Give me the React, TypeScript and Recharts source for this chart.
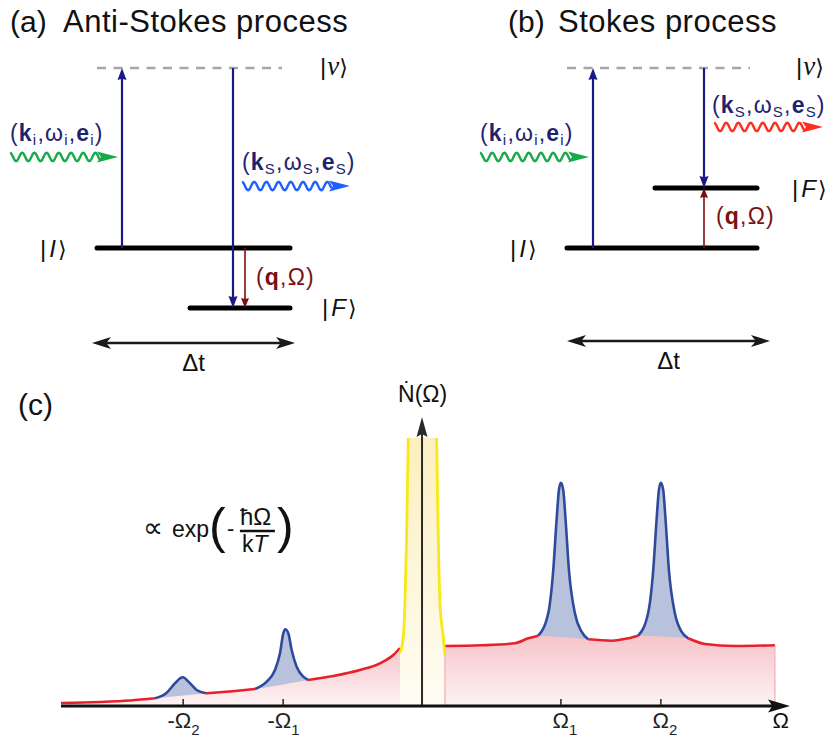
import React from 'react';
import { ComposedChart, XAxis, YAxis, ReferenceLine, ReferenceDot, Line, Area } from 'recharts';

const SANS = '"Liberation Sans", Arial, Helvetica, sans-serif';
const SERIF = '"Liberation Serif", "Times New Roman", serif';
const KET = '"DejaVu Sans", "Liberation Sans", sans-serif';

const NAVY = '#1a1a84';
const NAVY_TEXT = '#1d246f';
const MAROON = '#7b1010';

// ---------------- data ----------------
// energy levels (units of ħΩ): |ν⟩, |I⟩, |F⟩
const STATES = ['ν', 'I', 'F'];
const ENERGY_ANTI_STOKES = [3, 0, -1];
const ENERGY_STOKES = [3, 0, 1];

// spectrum (Ω in units of Ω1, intensity arbitrary)
const RED_POINTS: [number, number][] = [
  [-2.6, 0.3], [-2.32, 0.4], [-2.1, 0.55], [-1.922, 0.77], [-1.556, 1.27], [-1.383, 1.45], [-1.203, 1.7],
  [-0.819, 2.6], [-0.639, 3.0], [-0.447, 3.6], [-0.303, 4.27], [-0.207, 5.1], [-0.159, 5.8],
  [0.165, 6.0], [0.429, 6.07], [0.669, 6.27], [0.765, 6.77], [0.837, 7.03], [1.197, 6.67], [1.365, 6.53],
  [1.485, 6.77], [1.557, 7.03], [1.917, 6.77], [2.037, 6.2], [2.253, 6.0], [2.541, 6.07],
];
const PEAK_POINTS: [number, number][] = [
  [-1.922, 0.77], [-1.839, 1.33], [-1.779, 2.27], [-1.724, 2.87], [-1.671, 2.27], [-1.623, 1.6], [-1.556, 1.27],
  [-1.203, 1.7], [-1.119, 2.43], [-1.059, 3.6], [-1.023, 5.27], [-0.999, 7.27], [-0.985, 7.67], [-0.963, 7.27],
  [-0.939, 5.6], [-0.903, 3.93], [-0.855, 2.93], [-0.819, 2.6],
  [0.837, 7.03], [0.909, 9.27], [0.945, 13.6], [0.969, 18.6], [0.986, 21.6], [1.0, 22.33], [1.017, 21.6],
  [1.034, 18.6], [1.058, 13.6], [1.101, 9.27], [1.149, 7.43], [1.197, 6.67],
  [1.557, 7.03], [1.628, 9.27], [1.665, 13.6], [1.689, 18.6], [1.706, 21.6], [1.72, 22.33], [1.737, 21.6],
  [1.754, 18.6], [1.778, 13.6], [1.821, 9.27], [1.869, 7.43], [1.917, 6.77],
];
const RAYLEIGH_POINTS: [number, number][] = [
  [-0.159, 5.3], [-0.135, 6.9], [-0.123, 10.3], [-0.111, 16.9], [-0.099, 26.8],
  [0.105, 26.8], [0.117, 16.9], [0.129, 10.3], [0.153, 6.9], [0.165, 5.1],
];
const RAYLEIGH_FILL_POINTS: [number, number][] = [
  [-0.159, 5.3], [-0.135, 6.9], [-0.123, 10.3], [-0.111, 16.9], [-0.099, 26.8], [0, 26.8],
  [0.105, 26.8], [0.117, 16.9], [0.129, 10.3], [0.153, 6.9], [0.165, 5.1],
];
const TICK_VALUES = [-1.72, -1, 1, 1.72];
const TICK_SIGNS = ['-', '-', '', ''];
const TICK_SUBS = ['2', '1', '1', '2'];

// build the table Recharts needs
const SERIES: Record<string, [number, number][]> = {
  red: RED_POINTS, blue: PEAK_POINTS, ray: RAYLEIGH_POINTS, rayFill: RAYLEIGH_FILL_POINTS,
};
const rowMap = new Map<string, any>();
Object.entries(SERIES).forEach(([k, pts]) => {
  pts.forEach(([w, v]) => {
    const id = w.toFixed(3);
    if (!rowMap.has(id)) rowMap.set(id, { w, red: null, blue: null, ray: null, rayFill: null });
    rowMap.get(id)[k] = v;
  });
});
const SPECTRUM_ROWS = Array.from(rowMap.values())
  .sort((a, b) => a.w - b.w)
  .map((r) => ({ ...r, bgL: r.w < 0 ? r.red : null, bgR: r.w > 0 ? r.red : null }));

// ---------------- shapes ----------------
type ArrowOpts = { color: string; width: number; head: number; half: number; notch?: number; both?: boolean };
const arrowShape = (o: ArrowOpts) => (p: any) => {
  const x1 = Number(p.x1), y1 = Number(p.y1), x2 = Number(p.x2), y2 = Number(p.y2);
  const dx = x2 - x1, dy = y2 - y1;
  const len = Math.hypot(dx, dy) || 1;
  const ux = dx / len, uy = dy / len, nx = -uy, ny = ux;
  const notch = o.notch ?? 0;
  const headPts = (tx: number, ty: number, sx: number, sy: number) => {
    const bx = tx - sx * o.head, by = ty - sy * o.head;
    const mx = tx - sx * o.head * (1 - notch), my = ty - sy * o.head * (1 - notch);
    return `${tx},${ty} ${bx + nx * o.half},${by + ny * o.half} ${mx},${my} ${bx - nx * o.half},${by - ny * o.half}`;
  };
  const inset = o.head * 0.7;
  const sx = o.both ? x1 + ux * inset : x1, sy = o.both ? y1 + uy * inset : y1;
  return (
    <g>
      <line x1={sx} y1={sy} x2={x2 - ux * inset} y2={y2 - uy * inset} stroke={o.color} strokeWidth={o.width} />
      <polygon points={headPts(x2, y2, ux, uy)} fill={o.color} />
      {o.both ? <polygon points={headPts(x1, y1, -ux, -uy)} fill={o.color} /> : null}
    </g>
  );
};

const levelShape = (p: any) => (
  <line x1={p.x1} y1={p.y1} x2={p.x2} y2={p.y2} stroke="#000" strokeWidth={5} strokeLinecap="round" />
);

const waveShape = (color: string) => (p: any) => {
  const x1 = Number(p.x1), y = Number(p.y1), x2 = Number(p.x2);
  const head = 21, amp = 4.2, period = 12.2;
  const end = x2 - head + 3;
  const pts: string[] = [];
  for (let x = x1; x <= end; x += 0.6) {
    pts.push(`${x.toFixed(1)},${(y - amp * Math.cos(((x - x1) / period) * 2 * Math.PI)).toFixed(2)}`);
  }
  return (
    <g>
      <polyline points={pts.join(' ')} fill="none" stroke={color} strokeWidth={2.4} strokeLinejoin="round" />
      <polygon points={`${x2},${y} ${x2 - head},${y - 5.5} ${x2 - head + 4},${y} ${x2 - head},${y + 5.5}`} fill={color} />
    </g>
  );
};

const textShape = (render: (x: number, y: number) => React.ReactElement) => (p: any) => render(Number(p.cx), Number(p.cy));

const kLabel = (sub: string) => (x: number, y: number) => (
  <text x={x} y={y} fontFamily={SANS} fontSize={23} fill={NAVY_TEXT} letterSpacing={1.2}>
    (<tspan fontWeight="bold">k</tspan>
    <tspan fontSize={15} dy={4}>{sub}</tspan>
    <tspan dy={-4}>,ω</tspan>
    <tspan fontSize={15} dy={4}>{sub}</tspan>
    <tspan dy={-4}>,</tspan>
    <tspan fontWeight="bold">e</tspan>
    <tspan fontSize={15} dy={4}>{sub}</tspan>
    <tspan dy={-4}>)</tspan>
  </text>
);

const qLabel = (x: number, y: number) => (
  <text x={x} y={y} fontFamily={SANS} fontSize={23} fill={MAROON} letterSpacing={1.2}>
    (<tspan fontWeight="bold">q</tspan>,Ω)
  </text>
);

const ketLabel = (s: string) => (x: number, y: number) => (
  <text x={x} y={y} fontFamily={SANS} fontSize={24} fill="#111">
    |
    <tspan fontStyle="italic" fontFamily={s === 'ν' ? SERIF : SANS} fontSize={s === 'ν' ? 27 : 24} dx={s === 'ν' ? 1 : 3}>{s}</tspan>
    <tspan fontFamily={KET} fontSize={22} dx={s === 'ν' ? 0 : 2}>⟩</tspan>
  </text>
);

// ---------------- panels (a) / (b) ----------------
const LAYOUT_A = {
  width: 415,
  levelX: [[9.7, 28.2], [9.7, 29.0], [19.0, 29.0]],
  incX: 12.2, scatX: 23.3, phonX: 24.5,
  dtY: -1.583, dtX: [9.2, 29.5],
  kets: [[32.0, 2.88], [4.0, -0.15], [32.2, -1.13]],
  kin: [1.0, 1.783], kinWave: [1.0, 11.8, 1.517],
  ks: [24.2, 1.3], ksWave: [24.2, 35.0, 1.033], ksColor: '#1f5fff',
  q: [25.6, -0.617],
  tag: [1.0, 3.6], tagText: '(a)', title: [6.3, 3.6], titleText: 'Anti-Stokes process',
};
const LAYOUT_B = {
  width: 414,
  levelX: [[15.2, 33.5], [15.2, 34.2], [24.0, 34.2]],
  incX: 17.8, scatX: 28.9, phonX: 28.9,
  dtY: -1.55, dtX: [15.2, 35.5],
  kets: [[38.1, 2.88], [9.5, -0.15], [37.7, 0.85]],
  kin: [6.5, 1.783], kinWave: [6.5, 17.4, 1.517],
  ks: [29.7, 2.25], ksWave: [29.9, 40.8, 2.017], ksColor: '#ff2d1f',
  q: [30.1, 0.4],
  tag: [9.3, 3.6], tagText: '(b)', title: [14.3, 3.6], titleText: 'Stokes process',
};

const navyArrow = arrowShape({ color: NAVY, width: 2.2, head: 12, half: 4.5, notch: 0.1 });
const maroonArrow = arrowShape({ color: MAROON, width: 1.6, head: 10, half: 4, notch: 0.1 });
const dtArrow = arrowShape({ color: '#1a1a1a', width: 2.6, head: 19, half: 6, notch: 0.25, both: true });

function LevelPanel({ energy, L }: { energy: number[]; L: any }) {
  const [Enu, EI, EF] = energy;
  const dtMid = (L.dtX[0] + L.dtX[1]) / 2;
  return (
    <ComposedChart width={L.width} height={385} margin={{ top: 8, right: 0, bottom: 17, left: 0 }} data={[]}>
      <XAxis type="number" dataKey="x" domain={[0, L.width / 10]} hide allowDataOverflow />
      <YAxis type="number" domain={[-2, 4]} hide allowDataOverflow />
      <ReferenceLine
        segment={[{ x: L.levelX[0][0], y: Enu }, { x: L.levelX[0][1], y: Enu }]}
        stroke="#a6a6a6" strokeWidth={2.5} strokeDasharray="9 7.5"
      />
      <ReferenceLine segment={[{ x: L.levelX[1][0], y: EI }, { x: L.levelX[1][1], y: EI }]} shape={levelShape} />
      <ReferenceLine segment={[{ x: L.levelX[2][0], y: EF }, { x: L.levelX[2][1], y: EF }]} shape={levelShape} />
      <ReferenceLine segment={[{ x: L.incX, y: EI }, { x: L.incX, y: Enu }]} shape={navyArrow} />
      <ReferenceLine segment={[{ x: L.scatX, y: Enu }, { x: L.scatX, y: EF }]} shape={navyArrow} />
      <ReferenceLine segment={[{ x: L.phonX, y: EI }, { x: L.phonX, y: EF }]} shape={maroonArrow} />
      <ReferenceLine segment={[{ x: L.dtX[0], y: L.dtY }, { x: L.dtX[1], y: L.dtY }]} shape={dtArrow} />
      <ReferenceLine
        segment={[{ x: L.kinWave[0], y: L.kinWave[2] }, { x: L.kinWave[1], y: L.kinWave[2] }]}
        shape={waveShape('#17aa4b')}
      />
      <ReferenceLine
        segment={[{ x: L.ksWave[0], y: L.ksWave[2] }, { x: L.ksWave[1], y: L.ksWave[2] }]}
        shape={waveShape(L.ksColor)}
      />
      {STATES.map((s, i) => (
        <ReferenceDot key={s} x={L.kets[i][0]} y={L.kets[i][1]} r={0} ifOverflow="visible" shape={textShape(ketLabel(s))} />
      ))}
      <ReferenceDot x={L.kin[0]} y={L.kin[1]} r={0} ifOverflow="visible" shape={textShape(kLabel('i'))} />
      <ReferenceDot x={L.ks[0]} y={L.ks[1]} r={0} ifOverflow="visible" shape={textShape(kLabel('S'))} />
      <ReferenceDot x={L.q[0]} y={L.q[1]} r={0} ifOverflow="visible" shape={textShape(qLabel)} />
      <ReferenceDot
        x={dtMid} y={L.dtY} r={0} ifOverflow="visible"
        shape={textShape((x, y) => (
          <text x={x} y={y + 28} textAnchor="middle" fontFamily={SANS} fontSize={24} fill="#111">Δt</text>
        ))}
      />
      <ReferenceDot
        x={L.tag[0]} y={L.tag[1]} r={0} ifOverflow="visible"
        shape={textShape((x, y) => <text x={x} y={y} fontFamily={SANS} fontSize={30} fill="#111">{L.tagText}</text>)}
      />
      <ReferenceDot
        x={L.title[0]} y={L.title[1]} r={0} ifOverflow="visible"
        shape={textShape((x, y) => (
          <text x={x} y={y} fontFamily={SANS} fontSize={31} letterSpacing={0.5} fill="#111">{L.titleText}</text>
        ))}
      />
    </ComposedChart>
  );
}

// ---------------- panel (c) ----------------
const OmegaTick = (props: any) => {
  const { x, y, payload } = props;
  const i = TICK_VALUES.findIndex((t) => Math.abs(t - payload.value) < 1e-6);
  if (i < 0) return null;
  const sign = TICK_SIGNS[i];
  const start = x - (sign ? 7.3 : 0) - 8.4;
  return (
    <g>
      <line x1={x} y1={y - 7} x2={x} y2={y - 1} stroke="#333" strokeWidth={1.6} />
      <text x={start} y={y + 22} fontFamily={SANS} fontSize={22} fill="#222">
        {sign}Ω<tspan fontSize={15} dy={7}>{TICK_SUBS[i]}</tspan>
      </text>
    </g>
  );
};

const xAxisArrow = arrowShape({ color: '#111', width: 3.2, head: 22, half: 6.5, notch: 0.2 });
const yAxisArrow = arrowShape({ color: '#2a2a2a', width: 2, head: 20, half: 5.5, notch: 0.15 });
const pinkEdge = (p: any) => <line x1={p.x1} y1={p.y1} x2={p.x2} y2={p.y2} stroke="#f3b9bf" strokeWidth={1.5} />;

function Spectrum() {
  return (
    <ComposedChart width={829} height={372} data={SPECTRUM_ROWS} margin={{ top: 46, right: 39, bottom: 0, left: 61 }}>
      <defs>
        <linearGradient id="pinkGrad" x1="0" y1="0" x2="0" y2="1">
          <stop offset="0" stopColor="#f6c4ca" />
          <stop offset="1" stopColor="#fdf3f4" />
        </linearGradient>
        <linearGradient id="yellowGrad" x1="0" y1="0" x2="0" y2="1">
          <stop offset="0" stopColor="#fcefbf" />
          <stop offset="1" stopColor="#fffdf4" />
        </linearGradient>
      </defs>
      <XAxis
        type="number" dataKey="w" domain={[-2.6, 2.65]} allowDataOverflow ticks={TICK_VALUES} interval={0}
        axisLine={false} tickLine={false} tickSize={0} tickMargin={0} height={36} tick={OmegaTick}
      />
      <YAxis type="number" domain={[0, 29]} hide allowDataOverflow />
      <Area dataKey="rayFill" type="monotone" stroke="none" fill="url(#yellowGrad)" fillOpacity={1} isAnimationActive={false} dot={false} activeDot={false} />
      <Area dataKey="blue" type="monotone" stroke="none" fill="#b8c2dc" fillOpacity={1} isAnimationActive={false} dot={false} activeDot={false} />
      <Area dataKey="bgL" type="monotone" connectNulls stroke="none" fill="url(#pinkGrad)" fillOpacity={1} isAnimationActive={false} dot={false} activeDot={false} />
      <Area dataKey="bgR" type="monotone" connectNulls stroke="none" fill="url(#pinkGrad)" fillOpacity={1} isAnimationActive={false} dot={false} activeDot={false} />
      <ReferenceLine segment={[{ x: 0.165, y: 0 }, { x: 0.165, y: 6.0 }]} shape={pinkEdge} />
      <ReferenceLine segment={[{ x: 2.541, y: 0 }, { x: 2.541, y: 6.07 }]} shape={pinkEdge} />
      <ReferenceLine segment={[{ x: 0, y: 0 }, { x: 0, y: 28.9 }]} shape={yAxisArrow} />
      <ReferenceLine segment={[{ x: -2.6, y: 0 }, { x: 2.65, y: 0 }]} shape={xAxisArrow} />
      <Line dataKey="red" type="monotone" stroke="#e8202a" strokeWidth={2.6} dot={false} activeDot={false} isAnimationActive={false} />
      <Line dataKey="blue" type="monotone" stroke="#2f4a9c" strokeWidth={2.6} dot={false} activeDot={false} isAnimationActive={false} />
      <Line dataKey="ray" type="monotone" stroke="#f7e81a" strokeWidth={2.8} dot={false} activeDot={false} isAnimationActive={false} />
      <ReferenceDot
        x={-2.6} y={29} r={0} ifOverflow="visible"
        shape={textShape((x, y) => <text x={x - 43} y={y - 1} fontFamily={SANS} fontSize={30} fill="#111">(c)</text>)}
      />
      <ReferenceDot
        x={0} y={29} r={0} ifOverflow="visible"
        shape={textShape((x, y) => <text x={x - 24} y={y - 14} fontFamily={SANS} fontSize={23} fill="#111">Ṅ(Ω)</text>)}
      />
      <ReferenceDot
        x={2.584} y={0} r={0} ifOverflow="visible"
        shape={textShape((x, y) => <text x={x} y={y + 22} textAnchor="middle" fontFamily={SANS} fontSize={22} fill="#111">Ω</text>)}
      />
      <ReferenceDot
        x={-2.01} y={16.9} r={0} ifOverflow="visible"
        shape={textShape((x, y) => (
          <g fill="#111">
            <text x={x} y={y} fontSize={28} fontFamily='"DejaVu Sans"' fontWeight={300}>∝</text>
            <text x={x + 29} y={y} fontSize={23} fontFamily={SANS}>exp</text>
            <text x={x + 66} y={y + 6} fontSize={50} fontFamily={SANS}>(</text>
            <text x={x + 84} y={y - 1} fontSize={22} fontFamily={SANS}>-</text>
            <text x={x + 97} y={y - 12} fontSize={24} fontFamily={SANS}>ħΩ</text>
            <line x1={x + 97} x2={x + 132} y1={y - 6} y2={y - 6} stroke="#111" strokeWidth={2.5} />
            <text x={x + 99} y={y + 15} fontSize={23} fontFamily={SANS}>k<tspan fontStyle="italic">T</tspan></text>
            <text x={x + 134} y={y + 6} fontSize={50} fontFamily={SANS}>)</text>
          </g>
        ))}
      />
    </ComposedChart>
  );
}

export default function App() {
  return (
    <div style={{ position: 'absolute', left: 0, top: 0, width: 829, height: 742, background: '#fff', overflow: 'hidden' }}>
      <div style={{ position: 'absolute', left: 0, top: 370 }}>
        <Spectrum />
      </div>
      <div style={{ position: 'absolute', left: 0, top: 0 }}>
        <LevelPanel energy={ENERGY_ANTI_STOKES} L={LAYOUT_A} />
      </div>
      <div style={{ position: 'absolute', left: 415, top: 0 }}>
        <LevelPanel energy={ENERGY_STOKES} L={LAYOUT_B} />
      </div>
    </div>
  );
}
